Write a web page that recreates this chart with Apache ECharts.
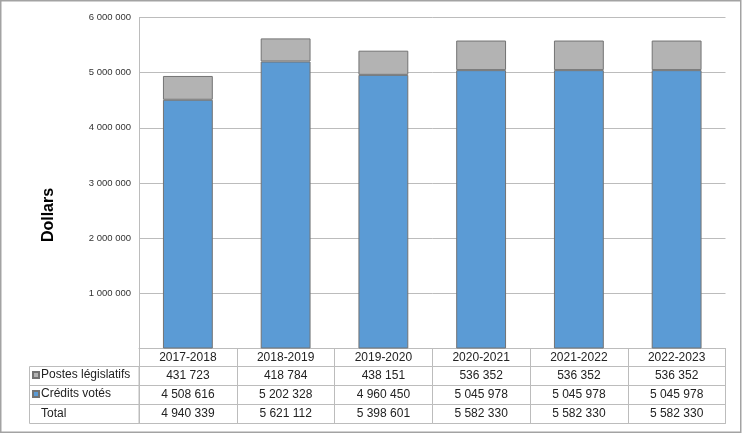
<!DOCTYPE html>
<html><head><meta charset="utf-8">
<script src="https://cdn.jsdelivr.net/npm/echarts@6/dist/echarts.min.js"></script>
<style>html,body{margin:0;padding:0;background:#fff}#c{width:744px;height:434px}</style>
</head><body><div id="c"></div>
<script>
var categories = ['2017-2018','2018-2019','2019-2020','2020-2021','2021-2022','2022-2023'];
var postes = [431723, 418784, 438151, 536352, 536352, 536352];
var credits = [4508616, 5202328, 4960450, 5045978, 5045978, 5045978];
var totals = [4940339, 5621112, 5398601, 5582330, 5582330, 5582330];
var yTicks = [0, 1000000, 2000000, 3000000, 4000000, 5000000, 6000000];

function fmt(n){ return String(n).replace(/\B(?=(\d{3})+(?!\d))/g, ' '); }

var GL = 139, GR = 725.5, GT = 17.5, GB = 348.5;
var rowH = [18, 19, 19, 19];
var lineCol = '#bcbcbc';
var font = 'Liberation Sans, Arial, sans-serif';

function tableAxis(offset, h, rowData, showLabels){
  return {
    type: 'category', data: categories, position: 'bottom', offset: offset,
    axisLine: {show: true, lineStyle: {color: lineCol, width: 1}},
    axisTick: {show: h > 0, length: h, lineStyle: {color: lineCol}},
    axisLabel: {show: showLabels, margin: 3, fontSize: 12, color: '#222', fontFamily: font,
      formatter: function(v, i){ return rowData ? fmt(rowData[i]) : v; }},
    splitLine: {show: false}
  };
}

var off = [0, 18, 37, 56, 75];
var chart = echarts.init(document.getElementById('c'));
chart.setOption({
  animation: false,
  grid: {left: GL, right: 744 - GR, top: GT, bottom: 434 - GB, containLabel: false},
  xAxis: [
    tableAxis(off[0], rowH[0], null, true),
    tableAxis(off[1], rowH[1], postes, true),
    tableAxis(off[2], rowH[2], credits, true),
    tableAxis(off[3], rowH[3], totals, true),
    tableAxis(off[4], 0, null, false)
  ],
  yAxis: {
    type: 'value', min: yTicks[0], max: yTicks[yTicks.length-1], interval: 1000000,
    axisLine: {show: true, lineStyle: {color: lineCol}},
    axisTick: {show: false},
    axisLabel: {fontSize: 9.5, color: '#333', fontFamily: font, margin: 8,
      formatter: function(v){ return v === 0 ? '' : fmt(v); }},
    splitLine: {lineStyle: {color: lineCol}}
  },
  legend: [
    {data: [{name: 'Postes législatifs', icon: 'rect'}], left: 32, top: 369, itemWidth: 6, itemHeight: 6, itemGap: 0, selectedMode: false,
     textStyle: {fontSize: 12, color: '#222', fontFamily: font, padding: [0,0,0,-3]}, padding: 0},
    {data: [{name: 'Crédits votés', icon: 'rect'}], left: 32, top: 388, itemWidth: 6, itemHeight: 6, itemGap: 0, selectedMode: false,
     textStyle: {fontSize: 12, color: '#222', fontFamily: font, padding: [0,0,0,-3]}, padding: 0}
  ],
  graphic: [
    {type: 'rect', silent: true, shape: {x: 0.75, y: 0.75, width: 740, height: 431.5},
     style: {fill: 'none', stroke: '#a3a3a3', lineWidth: 1.5}},
    {type: 'rect', silent: true, shape: {x: 29.5, y: GB + off[1], width: GL - 29.5, height: off[4] - off[1]},
     style: {fill: 'none', stroke: lineCol, lineWidth: 1}},
    {type: 'line', silent: true, shape: {x1: 29.5, y1: GB + off[2], x2: GL, y2: GB + off[2]},
     style: {stroke: lineCol, lineWidth: 1}},
    {type: 'line', silent: true, shape: {x1: 29.5, y1: GB + off[3], x2: GL, y2: GB + off[3]},
     style: {stroke: lineCol, lineWidth: 1}},
    {type: 'text', silent: true, left: 41, top: GB + off[3] + 3,
     style: {text: 'Total', fontSize: 12, fill: '#222', fontFamily: font}},
    {type: 'text', silent: true, x: 48.5, y: 215, rotation: Math.PI / 2,
     style: {text: 'Dollars', fontSize: 16, fontWeight: 'bold', fill: '#000', fontFamily: font,
             align: 'center', verticalAlign: 'middle'}}
  ],
  series: [
    {name: 'Crédits votés', type: 'bar', stack: 'a', data: credits, barWidth: '51%',
     itemStyle: {color: '#5b9bd5', borderColor: '#737373', borderWidth: 1}},
    {name: 'Postes législatifs', type: 'bar', stack: 'a', data: postes, barWidth: '51%',
     itemStyle: {color: '#b3b3b3', borderColor: '#737373', borderWidth: 1}}
  ]
});
</script></body></html>
